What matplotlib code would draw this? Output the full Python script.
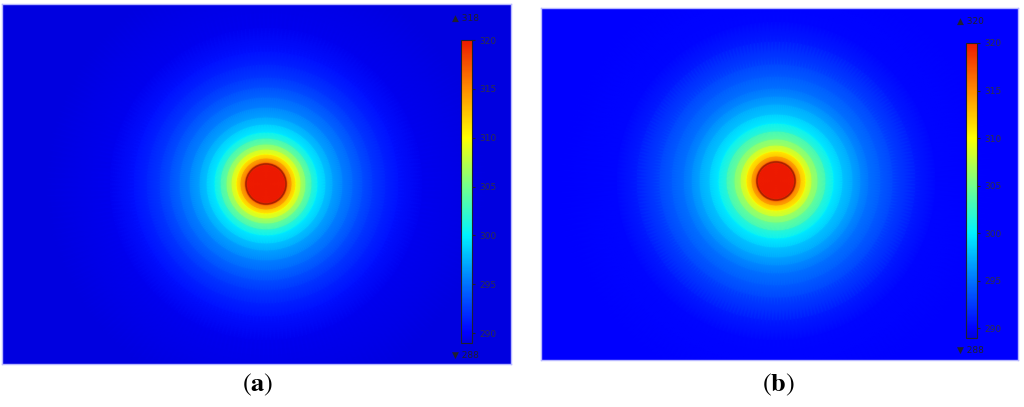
import numpy as np
import matplotlib.pyplot as plt
from matplotlib.colors import LinearSegmentedColormap, Normalize
from matplotlib.patches import Circle

plt.rcParams['mathtext.fontset'] = 'stix'

# colour scale anchors (K) and colours
cmap_temps = [289, 290, 295, 300, 305, 310, 315, 320]
cmap_colors = [(0, 0, 0.88), (0, 0, 1), (0, 0.45, 1), (0, 0.95, 1),
               (0.45, 1, 0.55), (1, 1, 0), (1, 0.55, 0), (0.93, 0.1, 0)]
t_min, t_max = 289, 320
cbar_ticks = [290, 295, 300, 305, 310, 315, 320]

# radial temperature profiles (radius in px from the source centre, K)
r_a = [0, 19, 20, 22, 26, 30, 35, 40, 46, 52, 60, 67, 77, 87, 97, 107, 120, 133, 157, 220, 450]
T_a = [320, 320, 318, 316, 313, 310, 307.5, 305, 302.3, 300, 298.3, 297, 295.6, 294.5, 293.4, 292.5,
       291.5, 290.7, 289.6, 289.1, 289]
r_b = [0, 18, 19, 21, 25, 30, 36, 42, 50, 58, 67, 77, 85, 93, 105, 117, 140, 160, 220, 450]
T_b = [320, 320, 318, 316, 313, 310, 307, 305, 302.2, 300, 298.4, 297, 296, 295, 294, 293,
       291.2, 290.3, 290, 290]

max_a, min_a = 318, 288
max_b, min_b = 320, 288

cmap = LinearSegmentedColormap.from_list(
    'heat', [((t - t_min) / (t_max - t_min), c) for t, c in zip(cmap_temps, cmap_colors)])
norm = Normalize(t_min, t_max)

W, H = 1024, 407
fig = plt.figure(figsize=(W / 100, H / 100), dpi=100)


def px_box(x0, y0, x1, y1):
    return [x0 / W, (H - y1) / H, (x1 - x0) / W, (y1 - y0) / H]


def panel(box, cbox, center, r, T, disk_r, t_hi, t_lo, label, label_x):
    ax = fig.add_axes(px_box(*box))
    w, h = box[2] - box[0], box[3] - box[1]
    ax.set_xlim(0, w)
    ax.set_ylim(0, h)
    ax.set_facecolor(cmap(norm(T[-1])))
    th = np.linspace(0, 2 * np.pi, 241)
    rr, tt = np.meshgrid(np.array(r, float), th, indexing='ij')
    X = center[0] + rr * np.cos(tt)
    Y = center[1] + rr * np.sin(tt)
    C = np.repeat(np.array(T, float)[:, None], len(th), axis=1)
    m = ax.pcolormesh(X, Y, C, cmap=cmap, norm=norm, shading='gouraud')
    ax.add_patch(Circle(center, disk_r, fill=False, ec='#8a1000', lw=1.2, alpha=0.7))
    ax.set_xticks([])
    ax.set_yticks([])
    for s in ax.spines.values():
        s.set_color('#b8b8ff')
        s.set_linewidth(1)

    cax = fig.add_axes(px_box(*cbox))
    cb = fig.colorbar(m, cax=cax, ticks=cbar_ticks)
    cb.outline.set_edgecolor('#202030')
    cb.outline.set_linewidth(0.8)
    cax.tick_params(labelsize=6.5, labelcolor='#30304a', color='#202030', length=2, width=0.8, pad=3)
    tx = (cbox[0] - 9) / W
    fig.text(tx, 1 - (cbox[1] - 22) / H, '▲ %d' % t_hi, fontsize=6.5, color='#202030', va='center', ha='left')
    fig.text(tx, 1 - (cbox[3] + 12) / H, '▼ %d' % t_lo, fontsize=6.5, color='#202030', va='center', ha='left')

    fig.text(label_x / W, 1 - 385 / H, r'$\mathrm{(}\mathbf{%s}\mathrm{)}$' % label,
             fontsize=19, ha='center', va='center', color='black')


panel((2, 4, 511, 364), (461, 40, 472, 343), (264, 180), r_a, T_a, 20, max_a, min_a, 'a', 258)
panel((541, 8, 1018, 360), (966, 43, 977, 338), (235, 179), r_b, T_b, 19, max_b, min_b, 'b', 778)

fig.savefig('out.png', dpi=100)
